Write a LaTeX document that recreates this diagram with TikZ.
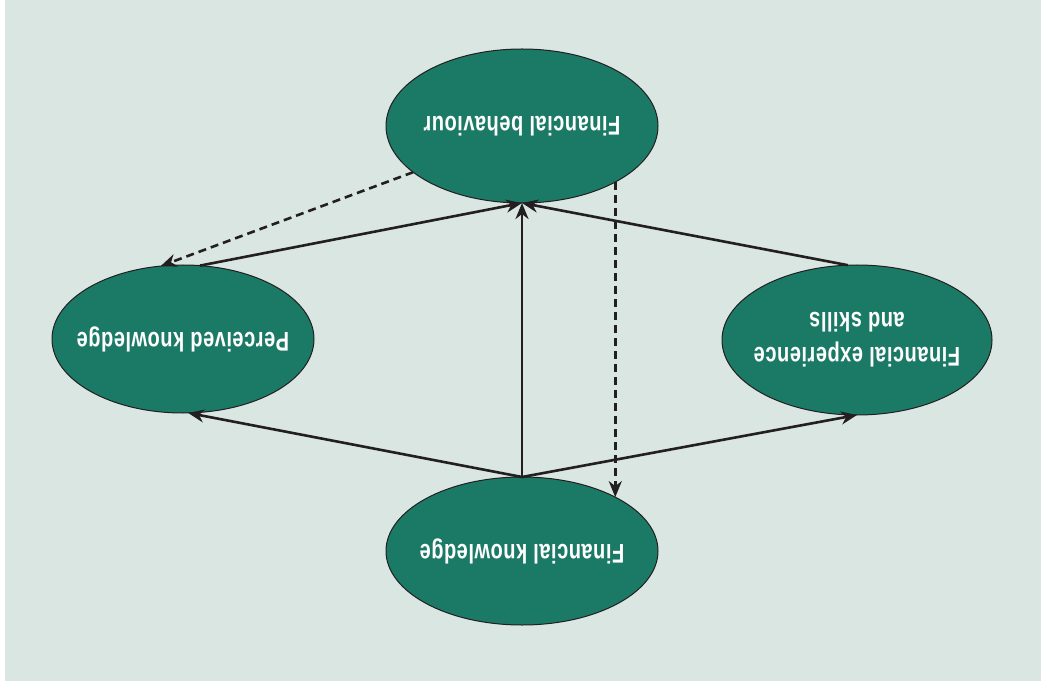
\documentclass[tikz,border=0pt]{standalone}
\usepackage{fontspec}
\newfontfamily\labfont{Liberation Sans}[FakeStretch=0.74, LetterSpace=2]
\usetikzlibrary{shapes.geometric,arrows.meta}
\definecolor{bgcol}{HTML}{D9E6E1}
\definecolor{ovalcol}{HTML}{1B7A66}
\definecolor{inkcol}{HTML}{231F20}
\begin{document}
\begin{tikzpicture}[x=1pt,y=1pt,
  oval/.style={ellipse, fill=ovalcol, draw=inkcol, line width=1pt, inner sep=0pt, outer sep=0pt},
  lab/.style={rotate=180, text=white, font=\labfont\bfseries\fontsize{27}{35}\selectfont, align=center, inner sep=0pt},
  link/.style={draw=inkcol, line width=2.6pt, -{Stealth[length=16pt,width=13pt,inset=5pt]}},
  hint/.style={link, dash pattern=on 8pt off 5pt}]
\useasboundingbox (0,0) rectangle (1041,681);
\fill[white] (0,0) rectangle (1041,681);
\fill[bgcol] (5,0) rectangle (1041,681);

% the four ellipses
\node[oval, minimum width=272pt, minimum height=154pt] (FB) at (522,555) {};
\node[oval, minimum width=262pt, minimum height=148pt] (PK) at (183,342) {};
\node[oval, minimum width=270pt, minimum height=150pt] (FE) at (857,341) {};
\node[oval, minimum width=272pt, minimum height=148pt] (FK) at (522,130) {};

% labels, set upside down
\node[lab] (FBt) at (FB) {Financial behaviour};
\node[lab] (PKt) at (PK) {Perceived knowledge};
\node[lab] (FEt) at (FE) {Financial experience\\and skills};
\node[lab] (FKt) at (FK) {Financial knowledge};

% solid links
\draw[link] (FK.north) -- (FB.south);
\draw[link] (FK.north) -- (PK.-86);
\draw[link] (FK.north) -- (FE.south);
\draw[link] (PK.77) -- (FB.south);
\draw[link] (FE.97) -- (FB.south);

% dashed links
\draw[hint] (FB.203.7) -- (PK.107);
\draw[hint] (FB.-31.5) -- (FB.-31.5 |- FK.30);
\end{tikzpicture}
\end{document}
